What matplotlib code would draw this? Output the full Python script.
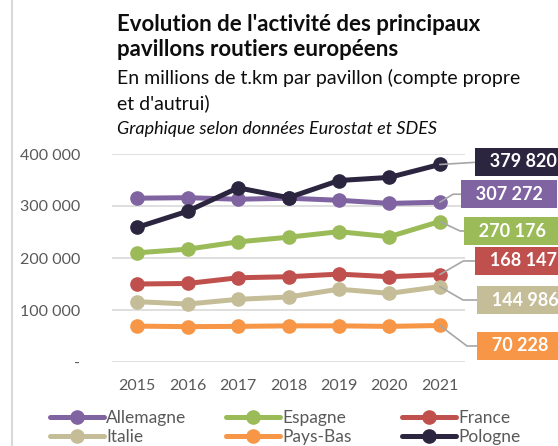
import matplotlib
matplotlib.use("Agg")
import matplotlib.pyplot as plt
from matplotlib.lines import Line2D

years = ["2015", "2016", "2017", "2018", "2019", "2020", "2021"]
allemagne = [315000, 316000, 313000, 315000, 311000, 305000, 307272]
espagne = [210000, 217000, 231000, 240000, 250600, 241000, 270176]
france = [150000, 151000, 162000, 164000, 169000, 164000, 168147]
italie = [116000, 111500, 120500, 125000, 140000, 132000, 144986]
paysbas = [69000, 68000, 68500, 69500, 69500, 68500, 70228]
pologne = [259000, 290000, 335000, 316000, 349000, 355000, 379820]

series_names = ["Allemagne", "Espagne", "France", "Italie", "Pays-Bas", "Pologne"]
series_values = [allemagne, espagne, france, italie, paysbas, pologne]
colors = ["#8064A2", "#9BBB59", "#C0504D", "#C4BD97", "#F79646", "#2B2540"]
yticks = [0, 100000, 200000, 300000, 400000]
ytick_labels = ["-", "100 000", "200 000", "300 000", "400 000"]
value_labels = ["307 272", "270 176", "168 147", "144 986", "70 228", "379 820"]
# label offsets (pixels) relative to last point, and leader angle
label_offsets = [(22, 8, 31), (25, -9.5, -25), (36, 13.6, 30), (38, -13.4, -30), (38, -20.5, -37), (36, 2.5, None)]

FONT = "Lato"
W, H = 558, 446
fig = plt.figure(figsize=(W / 100, H / 100), dpi=100)
ax = fig.add_axes([112 / W, 1 - 362 / H, (465 - 112) / W, (362 - 154) / H])

x = list(range(len(years)))
handles = []
for name, vals, c in zip(series_names, series_values, colors):
    h, = ax.plot(x, vals, color=c, lw=3.6, marker="o", ms=9.5, label=name,
                 solid_capstyle="round", clip_on=False)
    handles.append(h)

for vals, c, lab, (dx, dy, ang) in zip(series_values, colors, value_labels, label_offsets):
    cs = "arc3" if ang is None else f"angle,angleA=0,angleB={ang},rad=0"
    ax.annotate("  " + lab + "  ", xy=(x[-1], vals[-1]), xytext=(dx + 5, dy),
                textcoords="offset pixels", ha="left", va="center",
                fontsize=13, fontweight="bold", color="white", family=FONT,
                bbox=dict(boxstyle="square,pad=0.3", fc=c, ec="none"),
                arrowprops=dict(arrowstyle="-", color="#A6A6A6", lw=1.2,
                                shrinkA=0, shrinkB=0, relpos=(0, 0.5),
                                connectionstyle=cs),
                annotation_clip=False, zorder=5)

ax.set_xlim(-0.5, 6.5)
ax.set_ylim(0, 400000)
ax.set_yticks(yticks)
ax.set_yticklabels(ytick_labels)
ax.set_xticks(x)
ax.set_xticklabels(years)
ax.grid(axis="y", color="#D9D9D9", lw=1.2)
ax.set_axisbelow(True)
for s in ax.spines.values():
    s.set_visible(False)
ax.tick_params(length=0, colors="#595959", labelsize=11.5)
for t in ax.get_xticklabels() + ax.get_yticklabels():
    t.set_family(FONT)
ax.tick_params(axis="y", pad=23)
ax.tick_params(axis="x", pad=12)

# titles
fig.text(117 / W, 1 - 31 / H, "Evolution de l'activité des principaux", fontsize=16,
         fontweight="bold", family=FONT, color="#0D0D0D", va="baseline")
fig.text(117 / W, 1 - 56 / H, "pavillons routiers européens", fontsize=16,
         fontweight="bold", family=FONT, color="#0D0D0D", va="baseline")
fig.text(117 / W, 1 - 84 / H, "En millions de t.km par pavillon (compte propre", fontsize=14,
         family=FONT, color="#0D0D0D", va="baseline")
fig.text(117 / W, 1 - 109 / H, "et d'autrui)", fontsize=14,
         family=FONT, color="#0D0D0D", va="baseline")
fig.text(117 / W, 1 - 134 / H, "Graphique selon données Eurostat et SDES", fontsize=13,
         family=FONT, style="italic", color="#0D0D0D", va="baseline")

# left border
fig.add_artist(Line2D([12 / W, 12 / W], [0, 1], transform=fig.transFigure, color="#D9D9D9", lw=1.5))

# legend: three columns of two entries each
col_x = [50, 226, 402]
groups = [[0, 3], [1, 4], [2, 5]]
for cx, grp in zip(col_x, groups):
    leg = fig.legend([handles[i] for i in grp], [series_names[i] for i in grp],
                     ncol=1, loc="center left", bbox_to_anchor=(cx / W, 1 - 427.5 / H),
                     frameon=False, handlelength=3.1, handletextpad=0.15,
                     labelspacing=0.2, borderpad=0, borderaxespad=0,
                     prop={"family": FONT, "size": 12.5})
    for t in leg.get_texts():
        t.set_color("#595959")

fig.savefig("out.png", dpi=100)
